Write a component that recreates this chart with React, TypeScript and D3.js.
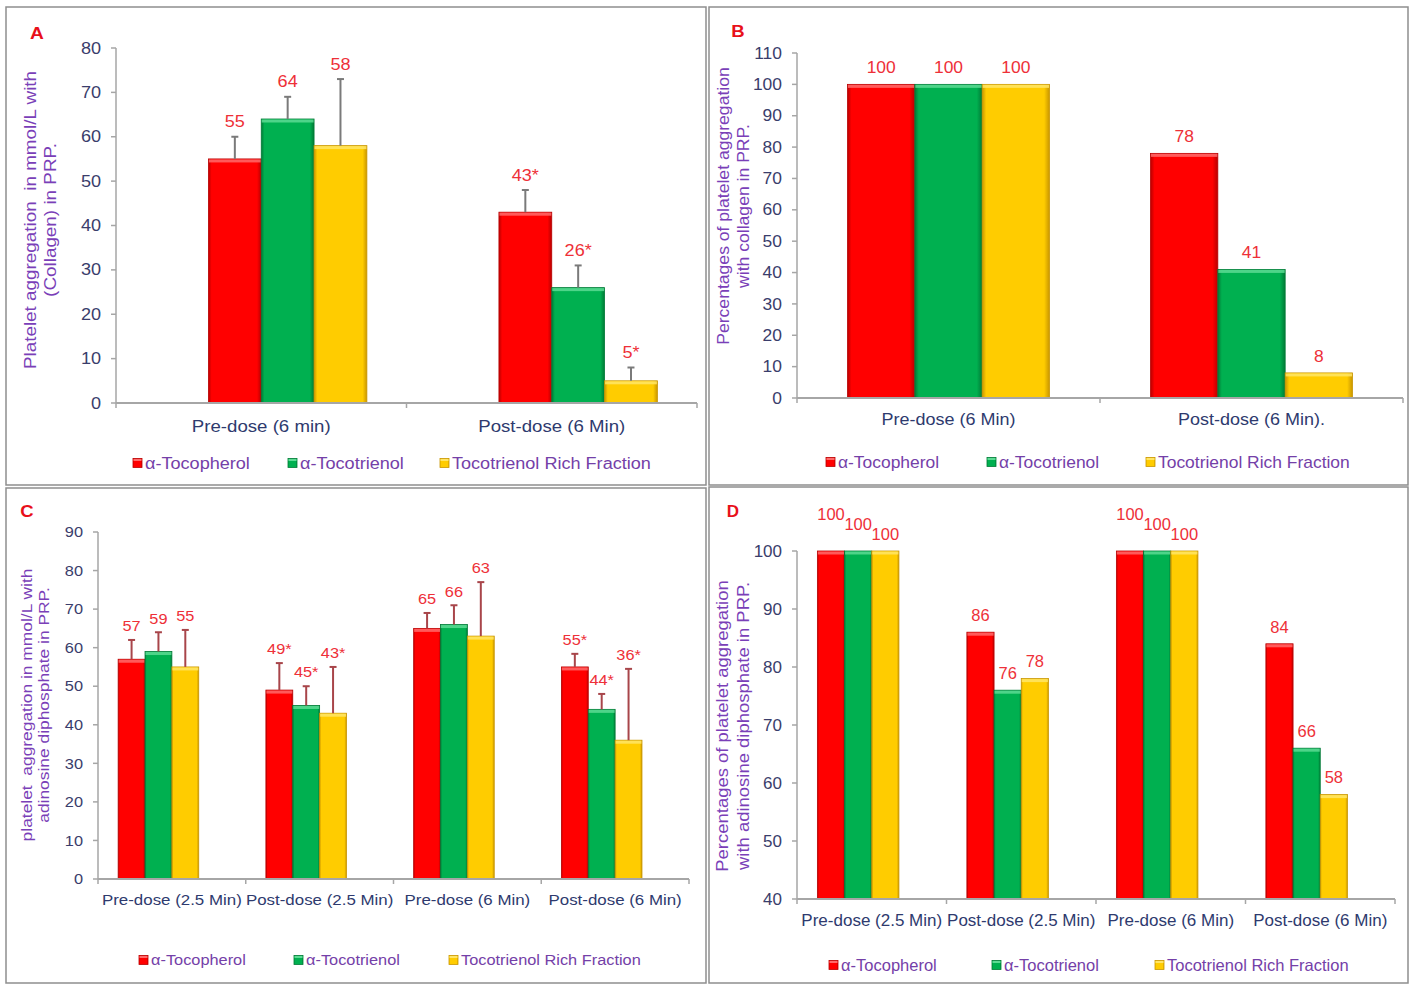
import React from "react";
import * as d3 from "d3";

// ---------- data ----------
const SERIES = ["α-Tocopherol", "α-Tocotrienol", "Tocotrienol Rich Fraction"];
const SERIES_COLORS = ["#FF0000", "#00B050", "#FFCC00"];
const SERIES_EDGE = ["#B80000", "#007A36", "#C99600"];
const SERIES_HIGHLIGHT = ["#FF6A6A", "#5CDB93", "#FFE566"];

// Panel A (collagen, mmol/L)
const CATEGORIES_A = ["Pre-dose (6 min)", "Post-dose (6 Min)"];
const TOCOPHEROL_A = [55, 43];
const TOCOTRIENOL_A = [64, 26];
const TRF_A = [58, 5];
const TOCOPHEROL_ERR_A = [5, 5];
const TOCOTRIENOL_ERR_A = [5, 5];
const TRF_ERR_A = [15, 3];
const SIGNIFICANT_A = [false, true];
const TICKS_A = [0, 10, 20, 30, 40, 50, 60, 70, 80];

// Panel B (collagen, %)
const CATEGORIES_B = ["Pre-dose (6 Min)", "Post-dose (6 Min)."];
const TOCOPHEROL_B = [100, 78];
const TOCOTRIENOL_B = [100, 41];
const TRF_B = [100, 8];
const TICKS_B = [0, 10, 20, 30, 40, 50, 60, 70, 80, 90, 100, 110];

// Panel C (ADP, mmol/L)
const CATEGORIES_C = ["Pre-dose (2.5 Min)", "Post-dose (2.5 Min)", "Pre-dose (6 Min)", "Post-dose (6 Min)"];
const TOCOPHEROL_C = [57, 49, 65, 55];
const TOCOTRIENOL_C = [59, 45, 66, 44];
const TRF_C = [55, 43, 63, 36];
const TOCOPHEROL_ERR_C = [5, 7, 4, 3.4];
const TOCOTRIENOL_ERR_C = [5, 5, 5, 4];
const TRF_ERR_C = [9.6, 12, 14, 18.5];
const SIGNIFICANT_C = [false, true, false, true];
const TICKS_C = [0, 10, 20, 30, 40, 50, 60, 70, 80, 90];

// Panel D (ADP, %)
const CATEGORIES_D = ["Pre-dose (2.5 Min)", "Post-dose (2.5 Min)", "Pre-dose (6 Min)", "Post-dose (6 Min)"];
const TOCOPHEROL_D = [100, 86, 100, 84];
const TOCOTRIENOL_D = [100, 76, 100, 66];
const TRF_D = [100, 78, 100, 58];
const TICKS_D = [40, 50, 60, 70, 80, 90, 100];

// ---------- styling ----------
const FONT = "'Liberation Sans', Arial, Helvetica, sans-serif";
const TICK_COLOR = "#3A3D6B";
const XLABEL_COLOR = "#2E3A6E";
const TITLE_COLOR = "#7A3FB8";
const LEGEND_COLOR = "#7440A8";
const VALUE_COLOR = "#EE3038";
const AXIS_COLOR = "#A6A6A6";
const FRAME_COLOR = "#8E8E8E";

type PanelSpec = {
  id: string;
  letter: string;
  letterPos: [number, number];
  frame: [number, number, number, number];
  left: number;
  right: number;
  top: number;
  bottom: number;
  domain: [number, number];
  ticks: number[];
  categories: string[];
  values: number[][];
  errors?: number[][];
  significant?: boolean[];
  slots: string[];
  stretch: number;
  tickFont: number;
  xFont: number;
  xLabelY: number;
  valueFont: number;
  valueGap: number;
  errColor?: string;
  titleLines: string[];
  titleX: number[];
  titleY: number;
  titleFont: number;
  titleStretch: number;
  legendY: number;
  legendX: number[];
  legendFont: number;
};

const panels: PanelSpec[] = [
  {
    id: "A",
    letter: "A",
    letterPos: [37, 39],
    frame: [6, 7, 706, 485],
    left: 116,
    right: 697,
    top: 48,
    bottom: 403,
    domain: [0, 80],
    ticks: TICKS_A,
    categories: CATEGORIES_A,
    values: [TOCOPHEROL_A, TOCOTRIENOL_A, TRF_A],
    errors: [TOCOPHEROL_ERR_A, TOCOTRIENOL_ERR_A, TRF_ERR_A],
    significant: SIGNIFICANT_A,
    slots: ["pad", "0", "1", "2"],
    stretch: 1.13,
    tickFont: 16,
    xFont: 16.5,
    xLabelY: 426,
    valueFont: 16,
    valueGap: 15,
    errColor: "#7A7A7A",
    titleLines: ["Platelet aggregation  in mmol/L with", "(Collagen) in PRP."],
    titleX: [30, 50],
    titleY: 220,
    titleFont: 16,
    titleStretch: 1.18,
    legendY: 463,
    legendX: [133, 288, 440],
    legendFont: 16,
  },
  {
    id: "B",
    letter: "B",
    letterPos: [738, 37],
    frame: [709, 7, 1408, 485],
    left: 797,
    right: 1403,
    top: 53,
    bottom: 398,
    domain: [0, 110],
    ticks: TICKS_B,
    categories: CATEGORIES_B,
    values: [TOCOPHEROL_B, TOCOTRIENOL_B, TRF_B],
    slots: ["0", "1", "2"],
    stretch: 1.09,
    tickFont: 16,
    xFont: 16.5,
    xLabelY: 419,
    valueFont: 16,
    valueGap: 17,
    titleLines: ["Percentages of platelet aggregation", "with collagen in PRP."],
    titleX: [723, 743],
    titleY: 206,
    titleFont: 16,
    titleStretch: 1.1,
    legendY: 462,
    legendX: [826, 987, 1146],
    legendFont: 16,
  },
  {
    id: "C",
    letter: "C",
    letterPos: [27, 517],
    frame: [6, 488, 706, 983],
    left: 98,
    right: 689,
    top: 532,
    bottom: 879,
    domain: [0, 90],
    ticks: TICKS_C,
    categories: CATEGORIES_C,
    values: [TOCOPHEROL_C, TOCOTRIENOL_C, TRF_C],
    errors: [TOCOPHEROL_ERR_C, TOCOTRIENOL_ERR_C, TRF_ERR_C],
    significant: SIGNIFICANT_C,
    slots: ["0", "1", "2", "pad"],
    stretch: 1.09,
    tickFont: 15,
    xFont: 15.5,
    xLabelY: 900,
    valueFont: 15,
    valueGap: 14,
    errColor: "#A8454A",
    titleLines: ["platelet  aggregation in mmol/L with", "adinosine diphosphate in PRP."],
    titleX: [27, 44],
    titleY: 705,
    titleFont: 14.5,
    titleStretch: 1.2,
    legendY: 960,
    legendX: [139, 294, 449],
    legendFont: 15,
  },
  {
    id: "D",
    letter: "D",
    letterPos: [733, 517],
    frame: [709, 487, 1408, 983],
    left: 797,
    right: 1395,
    top: 551,
    bottom: 899,
    domain: [40, 100],
    ticks: TICKS_D,
    categories: CATEGORIES_D,
    values: [TOCOPHEROL_D, TOCOTRIENOL_D, TRF_D],
    slots: ["0", "1", "2", "pad"],
    stretch: 1.0,
    tickFont: 17,
    xFont: 17,
    xLabelY: 920,
    valueFont: 16.5,
    valueGap: 17,
    titleLines: ["Percentages of platelet aggregation", "with adinosine diphosphate in PRP."],
    titleX: [722, 743],
    titleY: 726,
    titleFont: 16.5,
    titleStretch: 1.12,
    legendY: 965,
    legendX: [829, 992, 1155],
    legendFont: 16.5,
  },
];

function textWidth(s: string, fs: number) {
  let w = 0;
  for (const ch of s) w += ch === "*" ? 0.39 * fs : 0.556 * fs;
  return w;
}

// text with horizontal stretch about its anchor point
function T({
  x,
  y,
  k = 1,
  rotate = 0,
  anchor = "start",
  size,
  fill,
  weight,
  children,
  pre,
}: {
  x: number;
  y: number;
  k?: number;
  rotate?: number;
  anchor?: "start" | "middle" | "end";
  size: number;
  fill: string;
  weight?: string;
  children: React.ReactNode;
  pre?: boolean;
}) {
  return (
    <text
      transform={`translate(${x},${y})${rotate ? ` rotate(${rotate})` : ""} scale(${k},1)`}
      dy="0.35em"
      textAnchor={anchor}
      fontSize={size}
      fill={fill}
      fontFamily={FONT}
      fontWeight={weight}
      style={pre ? { whiteSpace: "pre" } : undefined}
    >
      {children}
    </text>
  );
}

function Bar({ x, y, w, h, i }: { x: number; y: number; w: number; h: number; i: number }) {
  return (
    <g>
      <rect x={x} y={y} width={w} height={h} fill={`url(#grad${i})`} stroke={SERIES_EDGE[i]} strokeWidth={0.8} />
      <rect x={x + 0.5} y={y + 0.5} width={Math.max(0, w - 1)} height={Math.min(3, h)} fill={SERIES_HIGHLIGHT[i]} opacity={0.85} />
    </g>
  );
}

function Panel({ s }: { s: PanelSpec }) {
  const x0 = d3.scaleBand<string>().domain(s.categories).range([s.left, s.right]).padding(0);
  const x1 = d3.scaleBand<string>().domain(s.slots).range([0, x0.bandwidth()]).paddingInner(0).paddingOuter(0.75);
  const y = d3.scaleLinear().domain(s.domain).range([s.bottom, s.top]);
  const bw = x1.bandwidth();
  const base = y(s.domain[0]);

  // value labels with simple dodge
  const labels: { x: number; y: number; t: string }[] = [];
  s.categories.forEach((cat, ci) => {
    const group: { x: number; y: number; t: string }[] = s.values.map((vals, si) => {
      const v = vals[ci];
      const e = s.errors ? s.errors[si][ci] : 0;
      const cx = (x0(cat) as number) + (x1(String(si)) as number) + bw / 2;
      const ly = y(v + e) - s.valueGap;
      const t = `${v}${s.significant && s.significant[ci] ? "*" : ""}`;
      return { x: cx, y: ly, t };
    });
    for (let i = group.length - 2; i >= 0; i--) {
      const a = group[i];
      const b = group[i + 1];
      const need = (textWidth(a.t, s.valueFont) / 2 + textWidth(b.t, s.valueFont) / 2) * s.stretch + 3;
      if (Math.abs(a.x - b.x) < need && Math.abs(a.y - b.y) < s.valueFont * 0.8) {
        a.y = Math.min(a.y, b.y - 10);
      }
    }
    labels.push(...group);
  });

  const [fx0, fy0, fx1, fy1] = s.frame;
  const boundaries = [...s.categories.map((c) => x0(c) as number), s.right];

  return (
    <g>
      <rect x={fx0} y={fy0} width={fx1 - fx0} height={fy1 - fy0} fill="#FFFFFF" stroke={FRAME_COLOR} strokeWidth={1.5} />
      <T x={s.letterPos[0]} y={s.letterPos[1] - 6} anchor="middle" size={17} fill="#E8101A" weight="bold" k={s.stretch}>
        {s.letter}
      </T>

      {/* y axis */}
      <line x1={s.left} x2={s.left} y1={s.top} y2={base} stroke={AXIS_COLOR} strokeWidth={1.5} />
      {s.ticks.map((t) => (
        <g key={`yt${t}`}>
          <line x1={s.left - 5} x2={s.left} y1={y(t)} y2={y(t)} stroke={AXIS_COLOR} strokeWidth={1.5} />
          <T x={s.left - 15} y={y(t)} anchor="end" size={s.tickFont} fill={TICK_COLOR} k={s.stretch}>
            {t}
          </T>
        </g>
      ))}

      {/* bars */}
      {s.categories.map((cat, ci) =>
        s.values.map((vals, si) => {
          const v = vals[ci];
          const bx = (x0(cat) as number) + (x1(String(si)) as number);
          return <Bar key={`b${ci}-${si}`} x={bx} y={y(v)} w={bw} h={base - y(v)} i={si} />;
        })
      )}

      {/* error bars */}
      {s.errors &&
        s.categories.map((cat, ci) =>
          s.values.map((vals, si) => {
            const v = vals[ci];
            const e = s.errors![si][ci];
            const cx = (x0(cat) as number) + (x1(String(si)) as number) + bw / 2;
            return (
              <g key={`e${ci}-${si}`} stroke={s.errColor} strokeWidth={2}>
                <line x1={cx} x2={cx} y1={y(v)} y2={y(v + e)} />
                <line x1={cx - 3.5} x2={cx + 3.5} y1={y(v + e)} y2={y(v + e)} />
              </g>
            );
          })
        )}

      {/* x axis */}
      <line x1={s.left} x2={s.right} y1={base} y2={base} stroke={AXIS_COLOR} strokeWidth={2} />
      {boundaries.map((bx, i) => (
        <line key={`xt${i}`} x1={bx} x2={bx} y1={base} y2={base + 5} stroke={AXIS_COLOR} strokeWidth={1.5} />
      ))}
      {s.categories.map((cat) => (
        <T
          key={`xl${cat}`}
          x={(x0(cat) as number) + x0.bandwidth() / 2}
          y={s.xLabelY}
          anchor="middle"
          size={s.xFont}
          fill={XLABEL_COLOR}
          k={s.stretch}
        >
          {cat}
        </T>
      ))}

      {/* value labels */}
      {labels.map((l, i) => (
        <T key={`v${i}`} x={l.x} y={l.y} anchor="middle" size={s.valueFont} fill={VALUE_COLOR} k={s.stretch}>
          {l.t}
        </T>
      ))}

      {/* y title */}
      {s.titleLines.map((line, i) => (
        <T
          key={`tt${i}`}
          x={s.titleX[i]}
          y={s.titleY}
          rotate={-90}
          anchor="middle"
          size={s.titleFont}
          fill={TITLE_COLOR}
          k={s.titleStretch}
          pre
        >
          {line}
        </T>
      ))}

      {/* legend */}
      {SERIES.map((name, i) => (
        <g key={`lg${i}`}>
          <rect x={s.legendX[i]} y={s.legendY - 4.5} width={9} height={9} fill={`url(#grad${i})`} stroke={SERIES_EDGE[i]} strokeWidth={0.8} />
          <rect x={s.legendX[i] + 0.5} y={s.legendY - 4} width={8} height={2} fill={SERIES_HIGHLIGHT[i]} />
          <T x={s.legendX[i] + 12} y={s.legendY} size={s.legendFont} fill={LEGEND_COLOR} k={s.stretch}>
            {name}
          </T>
        </g>
      ))}
    </g>
  );
}

export default function App() {
  return (
    <svg
      width={1415}
      height={989}
      viewBox="0 0 1415 989"
      style={{ position: "absolute", left: 0, top: 0, background: "#FFFFFF" }}
    >
      <defs>
        {SERIES_COLORS.map((c, i) => (
          <linearGradient key={`g${i}`} id={`grad${i}`} x1="0" x2="1" y1="0" y2="0">
            <stop offset="0" stopColor={SERIES_EDGE[i]} />
            <stop offset="0.06" stopColor={c} />
            <stop offset="0.92" stopColor={c} />
            <stop offset="1" stopColor={SERIES_EDGE[i]} />
          </linearGradient>
        ))}
      </defs>
      <rect x={0} y={0} width={1415} height={989} fill="#FFFFFF" />
      {panels.map((p) => (
        <Panel key={p.id} s={p} />
      ))}
    </svg>
  );
}
